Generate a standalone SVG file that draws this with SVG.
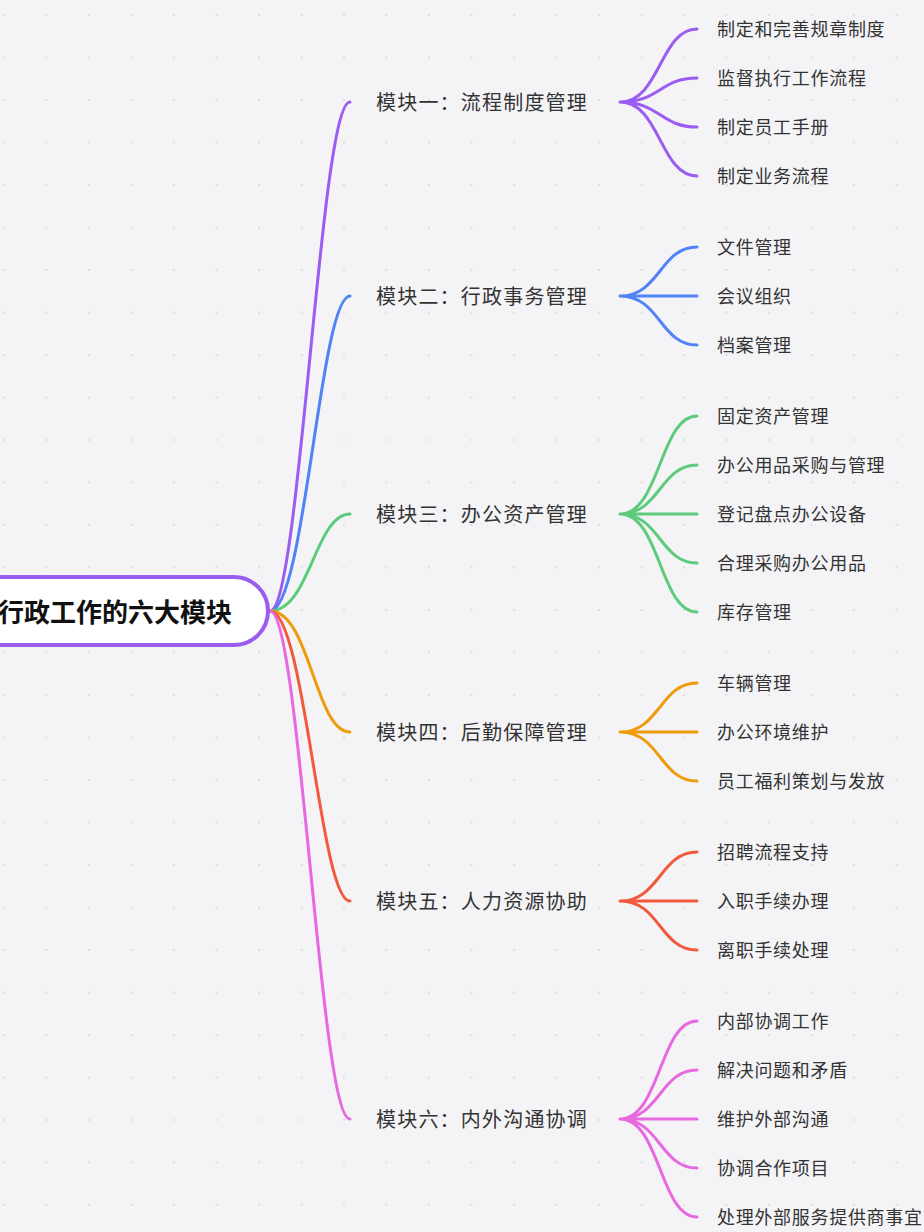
<svg xmlns="http://www.w3.org/2000/svg" width="924" height="1232" viewBox="0 0 924 1232">
<defs>
<pattern id="dots" x="3" y="14" width="42.5" height="42.5" patternUnits="userSpaceOnUse"><circle cx="1" cy="1" r="1" fill="#d6d6dc"/></pattern>
<style>
text{font-family:"Noto Sans CJK SC","Noto Sans",sans-serif;dominant-baseline:central}
.m{font-size:20px;letter-spacing:1.2px;fill:#333}
.c{font-size:18px;letter-spacing:0.7px;fill:#333}
.r{font-size:26px;font-weight:bold;fill:#111}
path{fill:none;stroke-width:3;stroke-linecap:round}
.p{stroke:#9b5cf2}.b{stroke:#4f83f6}.g{stroke:#5ccc7c}.o{stroke:#ee9c0c}.e{stroke:#f2583b}.k{stroke:#e868e0}
</style>
</defs>
<rect width="924" height="1232" fill="#f4f4f6"/>
<rect width="924" height="1232" fill="url(#dots)"/>
<g id="connectors">
<path class="p" d="M270 611 C300 611 320 102 350 102"/>
<path class="b" d="M270 611 C305 611 320 296 350 296"/>
<path class="g" d="M270 611 C310 611 315 514 350 514"/>
<path class="o" d="M270 611 C310 611 315 732 350 732"/>
<path class="e" d="M270 611 C305 611 320 901 350 901"/>
<path class="k" d="M270 611 C300 611 320 1119 350 1119"/>
<path class="p" d="M620 102 C660 102 660 29 697 29 M620 102 C660 102 660 78 697 78 M620 102 C660 102 660 127 697 127 M620 102 C660 102 660 176 697 176"/>
<path class="b" d="M620 296 C660 296 660 247 697 247 M620 296 L697 296 M620 296 C660 296 660 345 697 345"/>
<path class="g" d="M620 514 C660 514 660 416 697 416 M620 514 C660 514 660 465 697 465 M620 514 L697 514 M620 514 C660 514 660 563 697 563 M620 514 C660 514 660 612 697 612"/>
<path class="o" d="M620 732 C660 732 660 683 697 683 M620 732 L697 732 M620 732 C660 732 660 781 697 781"/>
<path class="e" d="M620 901 C660 901 660 852 697 852 M620 901 L697 901 M620 901 C660 901 660 950 697 950"/>
<path class="k" d="M620 1119 C660 1119 660 1021 697 1021 M620 1119 C660 1119 660 1070 697 1070 M620 1119 L697 1119 M620 1119 C660 1119 660 1168 697 1168 M620 1119 C660 1119 660 1217 697 1217"/>
</g>
<g id="root">
<rect x="-60" y="577" width="328" height="68" rx="34" fill="#fff" stroke="#9b5cf2" stroke-width="4"/>
<text class="r" x="-2" y="610">行政工作的六大模块</text>
</g>
<g id="m1"><text class="m" x="376" y="101">模块一：流程制度管理</text>
<text class="c" x="717" y="28">制定和完善规章制度</text><text class="c" x="717" y="77">监督执行工作流程</text><text class="c" x="717" y="126">制定员工手册</text><text class="c" x="717" y="175">制定业务流程</text></g>
<g id="m2"><text class="m" x="376" y="295">模块二：行政事务管理</text>
<text class="c" x="717" y="246">文件管理</text><text class="c" x="717" y="295">会议组织</text><text class="c" x="717" y="344">档案管理</text></g>
<g id="m3"><text class="m" x="376" y="513">模块三：办公资产管理</text>
<text class="c" x="717" y="415">固定资产管理</text><text class="c" x="717" y="464">办公用品采购与管理</text><text class="c" x="717" y="513">登记盘点办公设备</text><text class="c" x="717" y="562">合理采购办公用品</text><text class="c" x="717" y="611">库存管理</text></g>
<g id="m4"><text class="m" x="376" y="731">模块四：后勤保障管理</text>
<text class="c" x="717" y="682">车辆管理</text><text class="c" x="717" y="731">办公环境维护</text><text class="c" x="717" y="780">员工福利策划与发放</text></g>
<g id="m5"><text class="m" x="376" y="900">模块五：人力资源协助</text>
<text class="c" x="717" y="851">招聘流程支持</text><text class="c" x="717" y="900">入职手续办理</text><text class="c" x="717" y="949">离职手续处理</text></g>
<g id="m6"><text class="m" x="376" y="1118">模块六：内外沟通协调</text>
<text class="c" x="717" y="1020">内部协调工作</text><text class="c" x="717" y="1069">解决问题和矛盾</text><text class="c" x="717" y="1118">维护外部沟通</text><text class="c" x="717" y="1167">协调合作项目</text><text class="c" x="717" y="1216">处理外部服务提供商事宜</text></g>
</svg>
